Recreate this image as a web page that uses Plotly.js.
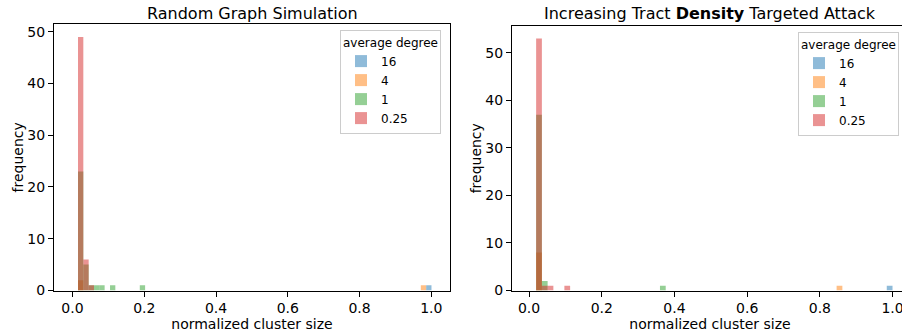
<!DOCTYPE html>
<html>
<head>
<meta charset="utf-8">
<script src="https://cdn.plot.ly/plotly-3.0.1.min.js"></script>
<style>
html,body{margin:0;padding:0;overflow:hidden;background:#fff;width:902px;height:332px;}
#chart{width:912px;height:332px;}
</style>
</head>
<body>
<div id="chart"></div>
<script>
// Legend labels (average degree)
const degreeNames = ['16', '4', '1', '0.25'];
const seriesColors = ['rgba(31,119,180,0.5)', 'rgba(255,127,14,0.5)', 'rgba(44,160,44,0.5)', 'rgba(214,39,40,0.5)'];

// Left panel: Random Graph Simulation (bin centers, counts)
const randX16 = [0.993];
const randY16 = [1];
const randX4 = [0.0228, 0.978];
const randY4 = [2, 1];
const randX1 = [0.0228, 0.0377, 0.0525, 0.0674, 0.0822, 0.112, 0.195];
const randY1 = [23, 5, 1, 1, 1, 1, 1];
const randX025 = [0.0228, 0.0377, 0.0525];
const randY025 = [49, 6, 1];

// Right panel: Increasing Tract Density Targeted Attack
const attX16 = [0.992];
const attY16 = [1];
const attX4 = [0.0273, 0.854];
const attY4 = [8, 1];
const attX1 = [0.0273, 0.0431, 0.368];
const attY1 = [37, 2, 1];
const attX025 = [0.0273, 0.0431, 0.0589, 0.105];
const attY025 = [53, 1, 1, 1];

const xTicks = [0, 0.2, 0.4, 0.6, 0.8, 1.0];
const xTickText = ['0.0', '0.2', '0.4', '0.6', '0.8', '1.0'];
const yTicks = [0, 10, 20, 30, 40, 50];

const leftSeries = [[randX16, randY16], [randX4, randY4], [randX1, randY1], [randX025, randY025]];
const rightSeries = [[attX16, attY16], [attX4, attY4], [attX1, attY1], [attX025, attY025]];

const traces = [];
leftSeries.forEach((s, i) => {
  traces.push({
    type: 'bar', x: s[0], y: s[1], name: degreeNames[i],
    width: 0.0148, xaxis: 'x', yaxis: 'y', legend: 'legend',
    marker: {color: seriesColors[i], line: {width: 0}},
    hoverinfo: 'x+y'
  });
});
rightSeries.forEach((s, i) => {
  traces.push({
    type: 'bar', x: s[0], y: s[1], name: degreeNames[i],
    width: 0.0158, xaxis: 'x2', yaxis: 'y2', legend: 'legend2',
    marker: {color: seriesColors[i], line: {width: 0}},
    hoverinfo: 'x+y'
  });
});

const W = 912, H = 332;
const axisFont = {family: 'DejaVu Sans', size: 14, color: '#000'};

function xaxisDef(dom, range) {
  return {
    domain: dom, range: range, tickvals: xTicks, ticktext: xTickText,
    showline: true, mirror: true, linecolor: '#000', linewidth: 1,
    ticks: 'outside', ticklen: 5, tickwidth: 1, tickcolor: '#000',
    showgrid: false, zeroline: false,
    tickfont: axisFont,
    title: {text: 'normalized cluster size', font: axisFont, standoff: 1}
  };
}
function yaxisDef(dom, range, anchor) {
  return {
    domain: dom, range: range, tickvals: yTicks, anchor: anchor,
    showline: true, mirror: true, linecolor: '#000', linewidth: 1,
    ticks: 'outside', ticklen: 5, tickwidth: 1, tickcolor: '#000',
    showgrid: false, zeroline: false,
    tickfont: axisFont,
    title: {text: 'frequency', font: axisFont, standoff: 0}
  };
}

const legendBase = {
  bgcolor: 'rgba(255,255,255,0.8)', bordercolor: '#cccccc', borderwidth: 1,
  font: {family: 'DejaVu Sans', size: 12, color: '#000'},
  title: {text: 'average degree', side: 'top center', font: {family: 'DejaVu Sans', size: 12, color: '#000'}},
  xanchor: 'left', yanchor: 'top', traceorder: 'normal', tracegroupgap: 0,
  itemwidth: 30
};

const layout = {
  width: W, height: H,
  margin: {l: 0, r: 0, t: 0, b: 0},
  paper_bgcolor: '#fff', plot_bgcolor: '#fff',
  font: axisFont,
  barmode: 'overlay',
  showlegend: true,
  xaxis: Object.assign(xaxisDef([54 / W, 450 / W], [-0.0515, 1.052]), {anchor: 'y'}),
  yaxis: yaxisDef([(332 - 290.5) / H, (332 - 24.2) / H], [0, 51.45], 'x'),
  xaxis2: Object.assign(xaxisDef([512 / W, 908 / W], [-0.047, 1.0425]), {anchor: 'y2'}),
  yaxis2: yaxisDef([(332 - 290.5) / H, (332 - 26) / H], [0, 55.65], 'x2'),
  legend: Object.assign({}, legendBase, {x: 340 / W, y: 1 - 30 / H}),
  legend2: Object.assign({}, legendBase, {x: 798 / W, y: 1 - 32 / H}),
  annotations: [
    {text: 'Random Graph Simulation', xref: 'paper', yref: 'paper', x: 252 / W, y: 1 - 13 / H,
     xanchor: 'center', yanchor: 'middle', showarrow: false, font: {family: 'DejaVu Sans', size: 16, color: '#000'}},
    {text: 'Increasing Tract <b>Density</b> Targeted Attack', xref: 'paper', yref: 'paper', x: 710 / W, y: 1 - 14 / H,
     xanchor: 'center', yanchor: 'middle', showarrow: false, font: {family: 'DejaVu Sans', size: 16, color: '#000'}}
  ]
};

Plotly.newPlot('chart', traces, layout, {displayModeBar: false, staticPlot: true});
</script>
</body>
</html>
